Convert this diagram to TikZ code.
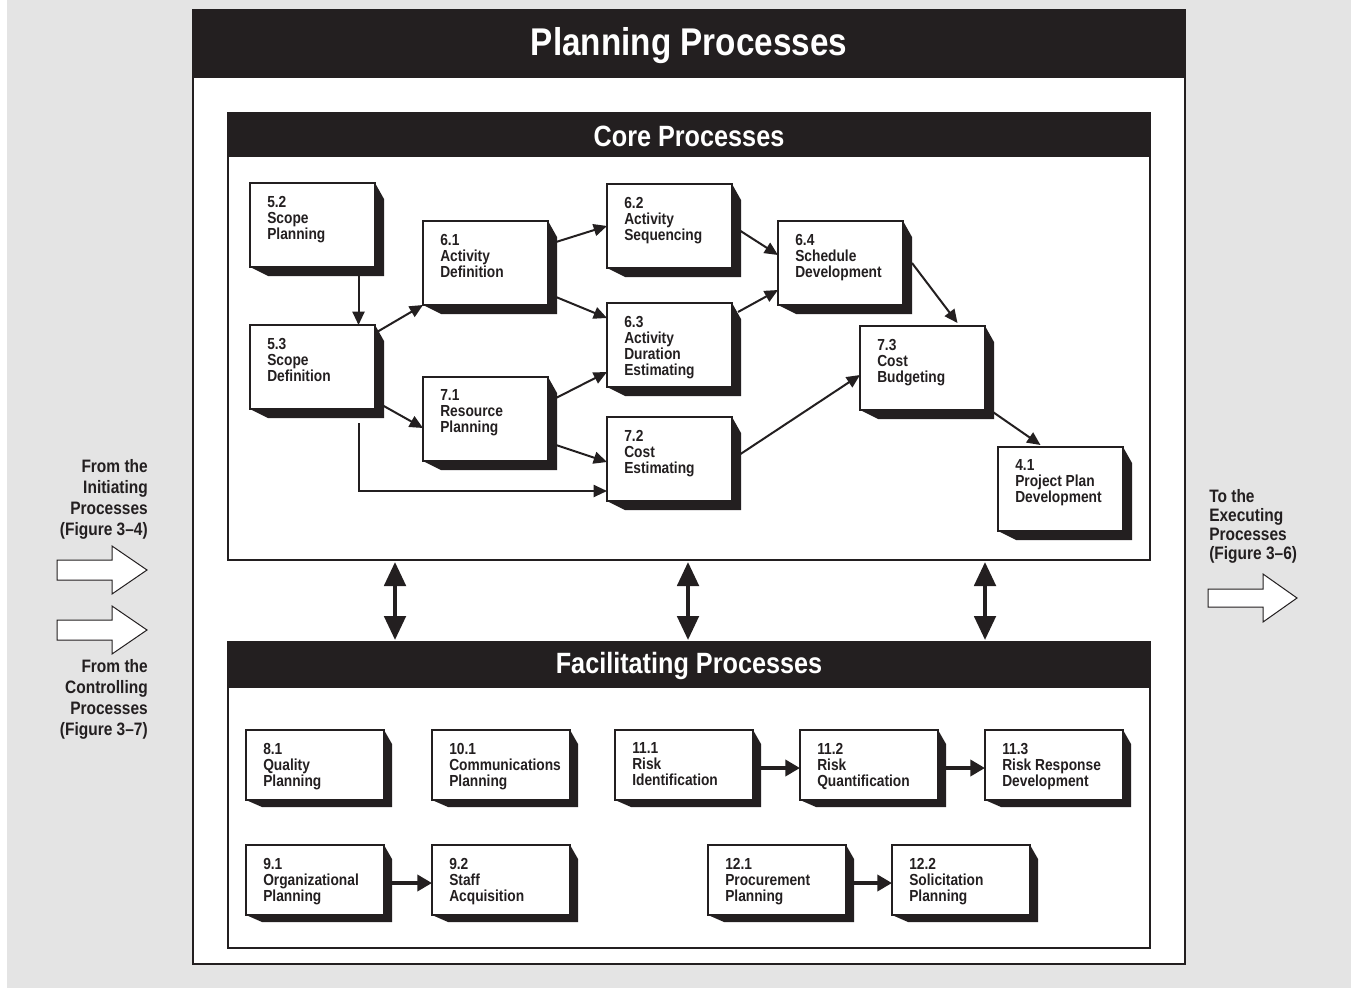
\documentclass[tikz,border=0pt]{standalone}
\usepackage{fontspec}
\setmainfont[FakeStretch=0.86]{Liberation Sans}
\usetikzlibrary{arrows.meta,calc}
\definecolor{ink}{HTML}{231F20}
\definecolor{paper}{HTML}{E4E4E4}
\pgfdeclarelayer{background}
\pgfdeclarelayer{shade}
\pgfsetlayers{background,shade,main}
\tikzset{
  proc/.style={draw=ink, fill=white, line width=2pt, anchor=north west,
    inner sep=0pt, outer sep=0pt, minimum width=93.75pt, minimum height=63pt},
  fproc/.style={proc, minimum width=103.5pt, minimum height=52.5pt},
  ptext/.style={anchor=north west, align=left, inner sep=0pt, xshift=12.75pt,
    yshift=-9.5pt, text=ink, font=\fontsize{12}{12}\selectfont\bfseries},
  panel/.style={draw=ink, fill=white, line width=1.5pt, anchor=north west,
    inner sep=0pt, outer sep=0pt},
  head/.style={text=white, inner sep=0pt, font=\fontsize{22}{22}\selectfont\bfseries},
  side/.style={text=ink, inner sep=0pt, font=\fontsize{13.5}{15.75}\selectfont\bfseries},
  conn/.style={draw=ink, line width=1.5pt, -{Triangle[length=10pt,width=9pt]}},
  farr/.style={draw=ink, line width=3pt, -{Triangle[length=11pt,width=12pt]}},
  dbl/.style={draw=ink, line width=3pt,
    {Triangle[length=18pt,width=16pt]}-{Triangle[length=18pt,width=16pt]}},
  hollow/.style={draw=ink, fill=white, line width=0.75pt}
}
\begin{document}
\begin{tikzpicture}[x=0.75pt,y=-0.75pt]
  \useasboundingbox (0,0) rectangle (1351,995);
  \begin{pgfonlayer}{background}
    \fill[paper] (7,0) rectangle (1351,988);
    \node[panel, minimum width=744pt, minimum height=715.5pt] (outer) at (193,10) {};
    \fill[ink] (outer.north west) rectangle (1185,78);
    \node[panel, minimum width=691.5pt, minimum height=335.25pt] (core) at (228,113) {};
    \fill[ink] (core.north west) rectangle (1150,157);
    \node[panel, minimum width=691.5pt, minimum height=229.5pt] (fac) at (228,642) {};
    \fill[ink] (fac.north west) rectangle (1150,688);
  \end{pgfonlayer}
  \node[head, font=\fontsize{29}{29}\selectfont\bfseries] (ttl) at (689,46) {Planning Processes};
  \node[head] (coreh) at (689,136) {Core Processes};
  \node[head] (fach) at (689,666) {Facilitating Processes};

  % core processes
  \node[proc, label={[ptext]north west:{5.2\\Scope\\Planning}}] (sp) at (250,183) {};
  \node[proc, label={[ptext]north west:{5.3\\Scope\\Definition}}] (sd) at (250,325) {};
  \node[proc, label={[ptext]north west:{6.1\\Activity\\Definition}}] (ad) at (423,221) {};
  \node[proc, label={[ptext]north west:{7.1\\Resource\\Planning}}] (rp) at (423,377) {};
  \node[proc, label={[ptext]north west:{6.2\\Activity\\Sequencing}}] (as) at (607,184) {};
  \node[proc, label={[ptext]north west:{6.3\\Activity\\Duration\\Estimating}}] (de) at (607,303) {};
  \node[proc, label={[ptext]north west:{7.2\\Cost\\Estimating}}] (ce) at (607,417) {};
  \node[proc, label={[ptext]north west:{6.4\\Schedule\\Development}}] (sdv) at (778,221) {};
  \node[proc, label={[ptext]north west:{7.3\\Cost\\Budgeting}}] (cb) at (860,326) {};
  \node[proc, label={[ptext]north west:{4.1\\Project Plan\\Development}}] (ppd) at (998,447) {};

  % facilitating processes
  \node[fproc, label={[ptext]north west:{8.1\\Quality\\Planning}}] (qp) at (246,730) {};
  \node[fproc, label={[ptext]north west:{10.1\\Communications\\Planning}}] (cp) at (432,730) {};
  \node[fproc, label={[ptext]north west:{11.1\\Risk\\Identification}}] (ri) at (615,730) {};
  \node[fproc, label={[ptext]north west:{11.2\\Risk\\Quantification}}] (rq) at (800,730) {};
  \node[fproc, label={[ptext]north west:{11.3\\Risk Response\\Development}}] (rr) at (985,730) {};
  \node[fproc, label={[ptext]north west:{9.1\\Organizational\\Planning}}] (op) at (246,845) {};
  \node[fproc, label={[ptext]north west:{9.2\\Staff\\Acquisition}}] (sa) at (432,845) {};
  \node[fproc, label={[ptext]north west:{12.1\\Procurement\\Planning}}] (pp) at (708,845) {};
  \node[fproc, label={[ptext]north west:{12.2\\Solicitation\\Planning}}] (sol) at (892,845) {};

  \begin{pgfonlayer}{shade}
    \foreach \n in {sp,sd,ad,rp,as,de,ce,sdv,cb,ppd}
      \fill[ink] (\n.north east) -- ++(9,16) |- ($(\n.south west)+(18,9)$) -- (\n.south west) -- cycle;
    \foreach \n in {qp,cp,ri,rq,rr,op,sa,pp,sol}
      \fill[ink] (\n.north east) -- ++(8,14) |- ($(\n.south west)+(16,7)$) -- (\n.south west) -- cycle;
  \end{pgfonlayer}

  \draw[conn] ($(sp.south)+(46,8)$) -- ($(sd.north)+(46,0)$);
  \draw[conn] ($(sd.north east)+(2,7)$) -- (ad.south west);
  \draw[conn] ($(sd.south east)+(7,-4)$) -- ($(rp.west)+(0,9)$);
  \draw[conn] ($(sd.south)+(46,14)$) |- ($(ce.south west)+(0,-10)$);
  \draw[conn] ($(ad.north east)+(8,21)$) -- (as.west);
  \draw[conn] ($(ad.south east)+(8,-8)$) -- ($(de.north west)+(0,15)$);
  \draw[conn] ($(rp.north east)+(8,21)$) -- ($(de.south west)+(0,-15)$);
  \draw[conn] ($(rp.south east)+(8,-16)$) -- ($(ce.west)+(0,3)$);
  \draw[conn] ($(as.east)+(7,4)$) -- ($(sdv.west)+(0,-8)$);
  \draw[conn] ($(de.north east)+(6,9)$) -- ($(sdv.south west)+(0,-15)$);
  \draw[conn] ($(ce.east)+(7,-4)$) -- ($(cb.west)+(0,7)$);
  \draw[conn] ($(sdv.east)+(9,0)$) -- ($(cb.north)+(35,-3)$);
  \draw[conn] ($(cb.south east)+(5,0)$) -- ($(ppd.north)+(-20,-2)$);

  \draw[farr] ($(ri.east)+(8,3)$) -- ($(rq.west)+(0,3)$);
  \draw[farr] ($(rq.east)+(8,3)$) -- ($(rr.west)+(0,3)$);
  \draw[farr] ($(op.east)+(8,3)$) -- ($(sa.west)+(0,3)$);
  \draw[farr] ($(pp.east)+(8,3)$) -- ($(sol.west)+(0,3)$);

  \foreach \dx in {167,460,757}
    \draw[dbl] ($(core.south west)+(\dx,2)$) -- ($(fac.north west)+(\dx,-2)$);

  % inputs and outputs
  \node[side, anchor=north east, align=right] (frominit) at (148,459) {From the\\Initiating\\Processes\\(Figure 3–4)};
  \node[side, anchor=north east, align=right] (fromctrl) at (148,659) {From the\\Controlling\\Processes\\(Figure 3–7)};
  \node[side, anchor=north west, align=left, font=\fontsize{13.5}{14.25}\selectfont\bfseries] (toexec) at (1209,489) {To the\\Executing\\Processes\\(Figure 3–6)};
  \draw[hollow] (57,560) -- ++(55,0) -- ++(0,-14) -- ++(35,24) -- ++(-35,24) -- ++(0,-14) -- ++(-55,0) -- cycle;
  \draw[hollow] (57,620) -- ++(55,0) -- ++(0,-14) -- ++(35,24) -- ++(-35,24) -- ++(0,-14) -- ++(-55,0) -- cycle;
  \draw[hollow] (1208,589) -- ++(55,0) -- ++(0,-15) -- ++(34,24) -- ++(-34,24) -- ++(0,-15) -- ++(-55,0) -- cycle;
\end{tikzpicture}
\end{document}
